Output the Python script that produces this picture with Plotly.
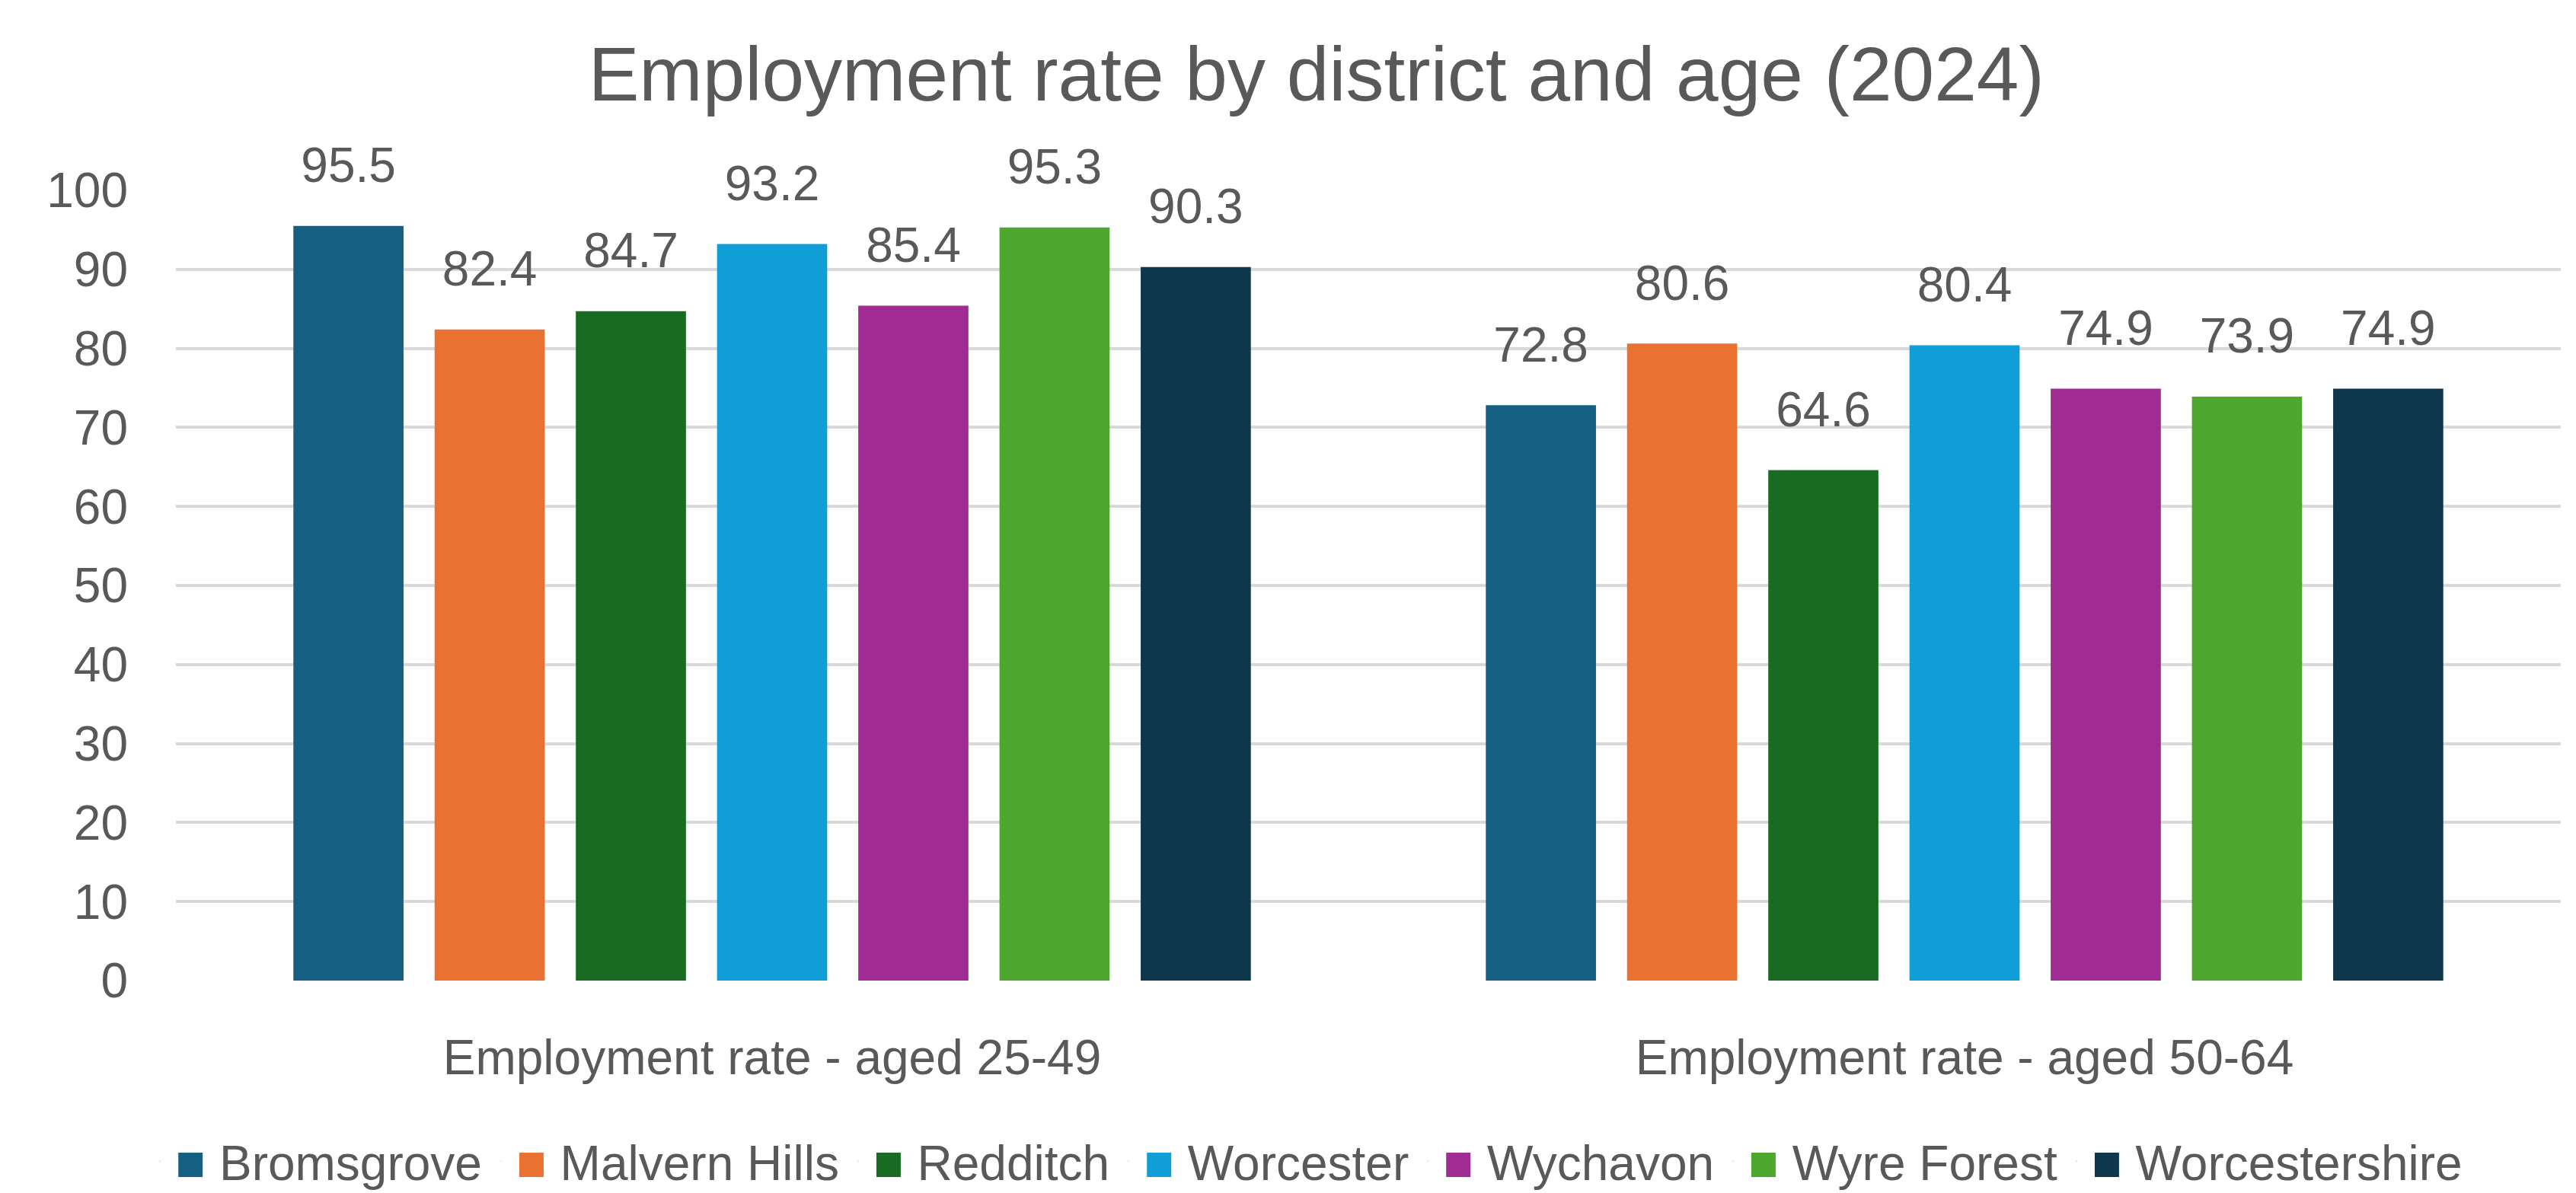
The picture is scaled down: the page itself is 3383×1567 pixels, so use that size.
import plotly.graph_objects as go

# Employment rate (%) by district, for two age bands
categories = ["Employment rate - aged 25-49", "Employment rate - aged 50-64"]
districts = ["Bromsgrove", "Malvern Hills", "Redditch", "Worcester",
             "Wychavon", "Wyre Forest", "Worcestershire"]
rates = {
    "Bromsgrove":     [95.5, 72.8],
    "Malvern Hills":  [82.4, 80.6],
    "Redditch":       [84.7, 64.6],
    "Worcester":      [93.2, 80.4],
    "Wychavon":       [85.4, 74.9],
    "Wyre Forest":    [95.3, 73.9],
    "Worcestershire": [90.3, 74.9],
}
colors = ["#156082", "#E97132", "#196B24", "#0F9ED5",
          "#A02B93", "#4EA72E", "#0E374C"]
y_ticks = list(range(0, 101, 10))

FONT = "Liberation Sans"
GREY = "#595959"
TXT = 64

fig = go.Figure()
for name, col in zip(districts, colors):
    fig.add_trace(go.Bar(
        name=name,
        x=categories,
        y=rates[name],
        marker=dict(color=col, line=dict(width=0)),
        # value label, lifted clear of the bar top by a small spacer line
        texttemplate=f"<span style='font-size:{TXT}px'>%{{y:.1f}}</span><br>\u00a0",
        textposition="outside",
        constraintext="none",
        textfont=dict(family=FONT, size=36, color=GREY),
        cliponaxis=False,
        showlegend=False,
    ))
    # legend entry: coloured key square followed by the district name
    fig.add_trace(go.Scatter(
        name=f"<span style='color:{col};font-size:66px'>\u25A0</span> {name}",
        x=[None], y=[None], mode="markers",
        marker=dict(size=1, opacity=0, color=col),
        showlegend=True,
    ))

fig.update_layout(
    width=3383, height=1567,
    margin=dict(l=231, r=20, t=250, b=279, autoexpand=False),
    paper_bgcolor="white", plot_bgcolor="white",
    barmode="group", bargap=0.171, bargroupgap=0.22,
    font=dict(family=FONT, color=GREY, size=TXT),
    title=dict(
        text="Employment rate by district and age (2024)",
        x=0.511, xanchor="center", xref="container",
        y=1 - 97 / 1567, yanchor="middle",
        font=dict(family=FONT, size=100, color=GREY),
    ),
    legend=dict(
        orientation="h", x=-0.013, xanchor="left",
        y=-0.229, yanchor="middle",
        font=dict(family=FONT, size=TXT, color=GREY),
        itemwidth=30, tracegroupgap=0,
    ),
)
fig.update_yaxes(
    range=[0, 100], tickvals=y_ticks,
    showgrid=True, gridcolor="#D9D9D9", gridwidth=4,
    zeroline=False, showline=False, ticks="",
    tickfont=dict(family=FONT, size=TXT, color=GREY),
    ticklabelstandoff=62,
)
fig.update_xaxes(
    showline=False, ticks="", showgrid=False,
    tickfont=dict(family=FONT, size=TXT, color=GREY),
    ticklabelstandoff=58,
)

fig.write_html("out.html")
